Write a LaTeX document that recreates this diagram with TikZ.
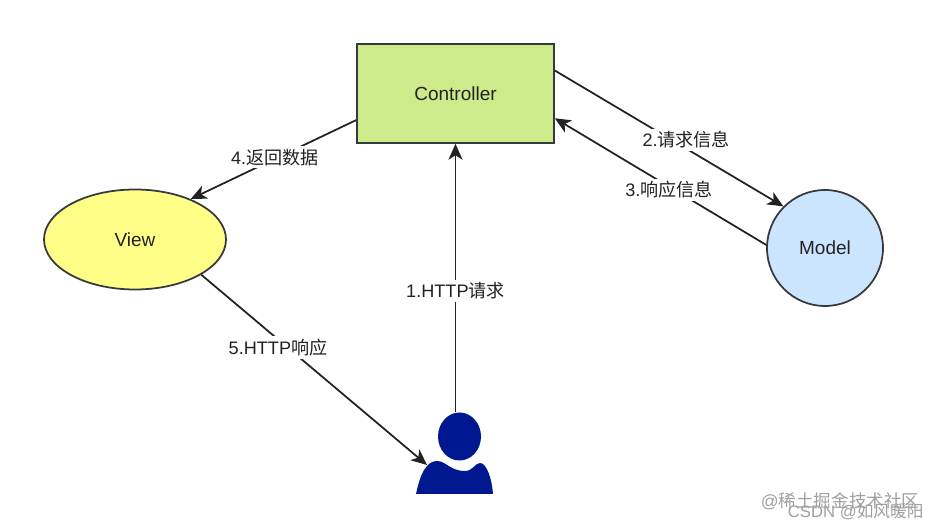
\documentclass[tikz,border=0pt]{standalone}
\usepackage{fontspec}
\setmainfont{Liberation Sans}
\newfontfamily\cjk{Noto Sans CJK SC}
\usetikzlibrary{arrows.meta}
\usetikzlibrary{shapes.geometric}
\definecolor{ctrlgreen}{HTML}{CDEB8B}
\definecolor{viewyellow}{HTML}{FFFF88}
\definecolor{modelblue}{HTML}{CCE5FF}
\definecolor{edgegray}{HTML}{36393D}
\definecolor{userblue}{HTML}{00188F}
\definecolor{inkgray}{HTML}{222222}
\tikzset{
  steplabel/.style={fill=white,inner sep=1.5pt,text=inkgray,font=\fontsize{10.3}{12}\selectfont},
  boxtext/.style={font=\fontsize{10.8}{12}\selectfont,text=inkgray},
  watermark/.style={text=gray!75,inner sep=0pt},
}

\begin{document}
\begin{tikzpicture}[line width=1pt,>={Stealth[length=9pt,width=8pt,inset=2.5pt]},draw=inkgray]
\useasboundingbox (0,0) rectangle (18.76,10.6);
% ---------- parts ----------
\node[draw=edgegray,fill=ctrlgreen,boxtext,minimum width=3.94cm,minimum height=1.98cm] (ctrl) at (9.11,8.73) {Controller};
\node[draw=edgegray,fill=viewyellow,boxtext,ellipse,minimum width=3.64cm,minimum height=2cm,inner sep=0pt] (view) at (2.70,5.81) {View};
\node[draw=edgegray,fill=modelblue,boxtext,circle,minimum size=2.32cm,inner sep=0pt] (model) at (16.50,5.64) {Model};
% user icon: head and shoulders
\node[fill=userblue,ellipse,minimum width=0.86cm,minimum height=0.96cm,inner sep=0pt] (head) at (9.19,1.87) {};
\fill[userblue] (8.32,0.72) .. controls (8.40,1.10) and (8.52,1.38) .. (8.74,1.38)
      .. controls (8.92,1.38) and (9.00,1.18) .. (9.30,1.18)
      .. controls (9.46,1.18) and (9.50,1.34) .. (9.60,1.34)
      .. controls (9.74,1.34) and (9.84,1.00) .. (9.86,0.72) -- cycle;
\coordinate (shoulder) at (8.54,1.30);
% ---------- connectors ----------
\draw[->] (head.north -| ctrl.south) -- node[steplabel,pos=0.45] (req) {1.HTTP{\cjk 请求}} (ctrl.south);
\draw[->] (ctrl.13.4) -- node[steplabel,pos=0.575,yshift=0.18cm] (ask) {2.{\cjk 请求信息}} (model.135);
\draw[->] (model.177) -- node[steplabel,pos=0.46,yshift=-0.06cm] (ans) {3.{\cjk 响应信息}} (ctrl.-14);
\draw[->] (ctrl.195) -- node[steplabel,pos=0.51,xshift=0.06cm,yshift=0.06cm] (back) {4.{\cjk 返回数据}} (view.36);
\draw[->] (view.-28) -- node[steplabel,pos=0.34,yshift=-0.16cm] (resp) {5.HTTP{\cjk 响应}} (shoulder);
% ---------- watermarks ----------
\node[watermark,anchor=west,font=\fontsize{10}{12}\selectfont] (mark) at (15.20,0.58) {@{\cjk 稀土掘金技术社区}};
\node[watermark,anchor=west,font=\fontsize{9.5}{12}\selectfont] (csdn) at (15.74,0.36) {CSDN @{\cjk 如风暖阳}};
\end{tikzpicture}
\end{document}
